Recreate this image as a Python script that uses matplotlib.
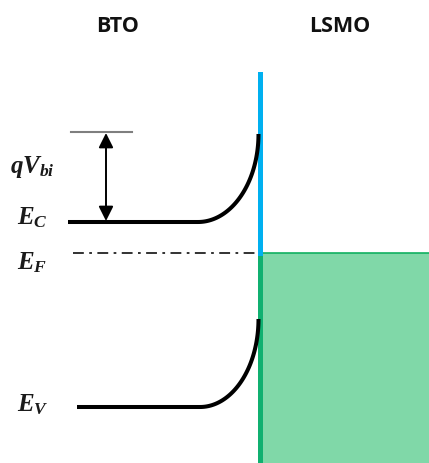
import numpy as np
import matplotlib.pyplot as plt
from matplotlib.patches import Rectangle

# ----------------------------
# Band diagram values (pixel-like units, y grows downward)
# ----------------------------
band_names = ["E_C", "E_V"]
band_start_x = [68, 77]          # left end of each band edge
band_flat_y = [223, 408]         # flat band level in bulk BTO
band_top_y = [135, 320]          # level at the interface (bent up)
bend_start_x = [198, 200]        # where band bending begins

interface_x = 259.5
interface_top = 75
fermi_y = 254
fermi_start_x = 73
barrier_top_y = 133
barrier_line_x = [71, 132]
arrow_x = 106

plt.rcParams['mathtext.fontset'] = 'custom'
plt.rcParams['mathtext.it'] = 'Liberation Serif:bold:italic'
plt.rcParams['mathtext.rm'] = 'Liberation Serif:bold'

fig = plt.figure(figsize=(4.29, 4.64), dpi=100)
ax = fig.add_axes([0, 0, 1, 1])
ax.set_xlim(0, 429)
ax.set_ylim(464, 0)
ax.axis('off')

# LSMO metal side (filled up to Fermi level)
ax.add_patch(Rectangle((interface_x, fermi_y), 429 - interface_x, 464 - fermi_y,
                       facecolor='#80D8A8', edgecolor='none', zorder=1))
ax.plot([interface_x, 429], [fermi_y, fermi_y], color='#10B060', lw=1.2, zorder=2)
ax.plot([interface_x, interface_x], [fermi_y, 464], color='#10B070', lw=3.6, zorder=3)

# interface line (blue)
ax.plot([interface_x, interface_x], [interface_top, fermi_y], color='#00B0F0', lw=3.6, zorder=3)

# band edges with bending near interface
for x0, yf, yt, xb in zip(band_start_x, band_flat_y, band_top_y, bend_start_x):
    th = np.linspace(0, np.pi / 2, 60)
    xc = xb + (interface_x - 1 - xb) * np.sin(th)
    yc = yf - (yf - yt) * (1 - np.cos(th))
    xs = np.concatenate([[x0], xc])
    ys = np.concatenate([[yf], yc])
    ax.plot(xs, ys, color='black', lw=2.9, solid_capstyle='butt', zorder=4)

# Fermi level dash-dot
ax.plot([fermi_start_x, interface_x - 2], [fermi_y, fermi_y], color='#222222',
        lw=1.3, linestyle=(0, (6, 3, 1.5, 3)), zorder=2)

# barrier reference line and qVbi arrow
ax.plot(barrier_line_x, [barrier_top_y, barrier_top_y], color='#7f7f7f', lw=1.5, zorder=2)
ax.annotate('', xy=(arrow_x, barrier_top_y + 1), xytext=(arrow_x, band_flat_y[0] - 1),
            arrowprops=dict(arrowstyle='<|-|>', color='black', lw=1.4,
                            mutation_scale=22, shrinkA=0, shrinkB=0), zorder=5)

# labels
ax.text(118, 27, 'BTO', fontsize=15.5, fontweight='bold', family='Open Sans',
        ha='center', va='center', color='#111111')
ax.text(340, 27, 'LSMO', fontsize=15.5, fontweight='bold', family='Open Sans',
        ha='center', va='center', color='#111111')

ax.text(10, 167, r'$qV_{bi}$', fontsize=18, ha='left', va='center', color='#1a1a1a')
ax.text(17, 218, r'$E_C$', fontsize=18, ha='left', va='center', color='#1a1a1a')
ax.text(17, 263, r'$E_F$', fontsize=18, ha='left', va='center', color='#1a1a1a')
ax.text(17, 405, r'$E_V$', fontsize=18, ha='left', va='center', color='#1a1a1a')

fig.savefig('out.png', dpi=100)
